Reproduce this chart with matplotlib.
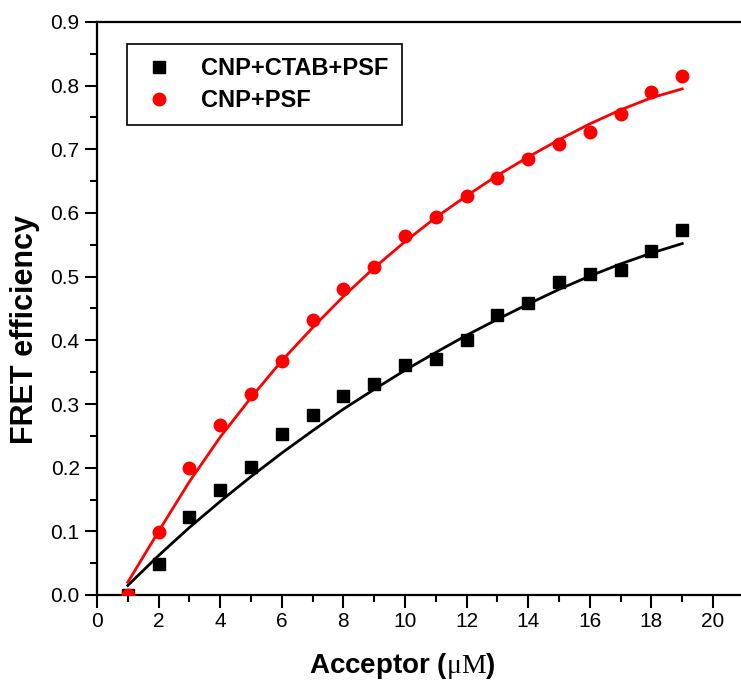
import matplotlib
matplotlib.use('Agg')
import matplotlib.pyplot as plt

plt.rcParams['font.family'] = ['Liberation Sans', 'DejaVu Sans']
plt.rcParams['mathtext.fontset'] = 'custom'
plt.rcParams['mathtext.rm'] = 'Liberation Serif'

conc = [1, 2, 3, 4, 5, 6, 7, 8, 9, 10, 11, 12, 13, 14, 15, 16, 17, 18, 19]

# measured points
ctab = [0.0, 0.048, 0.122, 0.165, 0.201, 0.253, 0.282, 0.312, 0.332, 0.361,
        0.370, 0.400, 0.440, 0.459, 0.492, 0.504, 0.510, 0.540, 0.574]
psf = [0.0, 0.099, 0.199, 0.267, 0.316, 0.367, 0.432, 0.480, 0.515, 0.564,
       0.593, 0.626, 0.655, 0.685, 0.709, 0.728, 0.756, 0.790, 0.815]

# fitted curves
ctab_fit = [0.015, 0.062, 0.106, 0.147, 0.186, 0.223, 0.258, 0.292, 0.323, 0.353,
            0.381, 0.408, 0.433, 0.457, 0.480, 0.501, 0.520, 0.537, 0.552]
psf_fit = [0.020, 0.100, 0.178, 0.248, 0.310, 0.368, 0.420, 0.469, 0.514, 0.555,
           0.593, 0.627, 0.659, 0.688, 0.715, 0.740, 0.762, 0.781, 0.795]

labels = ('CNP+CTAB+PSF', 'CNP+PSF')

fig = plt.figure(figsize=(7.41, 6.82), dpi=100)
ax = fig.add_axes([97/741., 1 - 595/682., 644/741., 573/682.])

ax.plot(conc, ctab_fit, color='black', lw=2, zorder=2)
ax.plot(conc, psf_fit, color='red', lw=2, zorder=2)
ax.plot(conc, ctab, 's', color='black', ms=8, label=labels[0], zorder=3)
ax.plot(conc, psf, 'o', color='red', ms=9, label=labels[1], zorder=3)

ax.set_xlim(0, 644/30.8)
ax.set_ylim(0, 0.9)
ax.set_xticks(range(0, 21, 2))
ax.set_xticks(range(1, 21, 2), minor=True)
ax.set_yticks([i/10. for i in range(10)])
ax.set_yticklabels(['%.1f' % (i/10.) for i in range(10)])
ax.set_yticks([i/20. for i in range(1, 18, 2)], minor=True)

ax.spines['right'].set_visible(False)
for s in ('left', 'bottom', 'top'):
    ax.spines[s].set_linewidth(1.6)
ax.tick_params(which='major', direction='out', length=9, width=1.5, labelsize=15)
ax.tick_params(which='minor', direction='out', length=5, width=1.5)

ax.set_xlabel(r'Acceptor ($\mathrm{\mu M}$)', fontsize=20, fontweight='bold')
ax.set_ylabel('FRET efficiency', fontsize=22, fontweight='bold')
ax.xaxis.set_label_coords(0.474, -0.097)
ax.yaxis.set_label_coords(-0.088, 0.464)

leg = ax.legend(loc='upper left', bbox_to_anchor=(30/644., 1 - 22/573.),
                prop={'weight': 'bold', 'size': 17}, borderaxespad=0,
                fancybox=False, edgecolor='black', framealpha=1,
                handlelength=1.6, handletextpad=1.0, borderpad=0.55, labelspacing=0.4)
leg.get_frame().set_linewidth(1.2)

plt.savefig('out.png', dpi=100)
